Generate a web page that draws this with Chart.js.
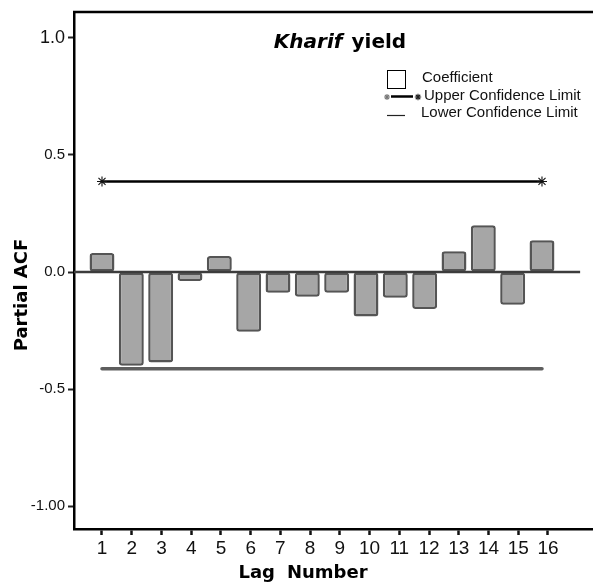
<!DOCTYPE html>
<html>
<head>
<meta charset="utf-8">
<script src="https://cdn.jsdelivr.net/npm/chart.js@4.4.1/dist/chart.umd.min.js"></script>
<style>
  html, body { margin: 0; padding: 0; background: #fff; }
  canvas { display: block; }
</style>
</head>
<body>
<canvas id="pacf" width="593" height="585"></canvas>
<script>
// Partial autocorrelation of Kharif yield, lags 1-16
const LAGS = [1, 2, 3, 4, 5, 6, 7, 8, 9, 10, 11, 12, 13, 14, 15, 16];
const LAG_LABELS = ['1', '2', '3', '4', '5', '6', '7', '8', '9', '10', '11', '12', '13', '14', '15', '16'];
const PACF = [0.081, -0.400, -0.387, -0.038, 0.068, -0.255, -0.089, -0.106,
              -0.089, -0.190, -0.110, -0.158, 0.089, 0.200, -0.140, 0.136];
const UPPER_LIMIT = 0.387;
const LOWER_LIMIT = -0.413;
const Y_TICKS = [1, 0.5, 0, -0.5, -1];
const Y_TICK_LABELS = ['1.0', '0.5', '0.0', '-0.5', '-1.00'];
const TITLE_ITALIC = 'Kharif';
const TITLE_PLAIN = 'yield';
const X_TITLE = 'Lag Number';
const Y_TITLE = 'Partial ACF';
const LEGEND_LABELS = ['Coefficient', 'Upper Confidence Limit', 'Lower Confidence Limit'];

const BOLD = 'bold 18px "DejaVu Sans"';
const SANS = '"Liberation Sans", Arial, sans-serif';

function star(ctx, x, y, r, color) {
  ctx.save();
  ctx.strokeStyle = color;
  ctx.lineWidth = 1.1;
  ctx.beginPath();
  for (let k = 0; k < 4; k++) {
    const a = k * Math.PI / 4;
    ctx.moveTo(x - r * Math.sin(a), y - r * Math.cos(a));
    ctx.lineTo(x + r * Math.sin(a), y + r * Math.cos(a));
  }
  ctx.stroke();
  ctx.restore();
}

// Frame top edge, zero reference line, titles and legend
const decorations = {
  id: 'decorations',
  afterDatasetsDraw(chart) {
    const { ctx, chartArea, scales } = chart;
    const y0 = scales.y.getPixelForValue(0);
    ctx.save();
    ctx.strokeStyle = '#3c3c3c';
    ctx.lineWidth = 2.5;
    ctx.beginPath();
    ctx.moveTo(chartArea.left, y0);
    ctx.lineTo(scales.x.getPixelForValue(LAGS[LAGS.length - 1] + 1.3), y0);
    ctx.stroke();
    ctx.restore();
  },
  afterDraw(chart) {
    const { ctx, chartArea } = chart;
    ctx.save();

    // top edge of the frame
    ctx.strokeStyle = '#000';
    ctx.lineWidth = 2.5;
    ctx.beginPath();
    ctx.moveTo(chartArea.left - 1, chartArea.top);
    ctx.lineTo(chartArea.right, chartArea.top);
    ctx.stroke();

    ctx.fillStyle = '#000';
    ctx.textBaseline = 'alphabetic';

    // chart title: italic species word + plain word
    ctx.font = 'italic bold 20px "DejaVu Sans"';
    const w1 = ctx.measureText(TITLE_ITALIC).width;
    ctx.font = 'bold 20px "DejaVu Sans"';
    const w2 = ctx.measureText(TITLE_PLAIN).width;
    const gap = 9;
    const tx = 340 - (w1 + gap + w2) / 2;
    ctx.font = 'italic bold 20px "DejaVu Sans"';
    ctx.textAlign = 'left';
    ctx.fillText(TITLE_ITALIC, tx, 48);
    ctx.font = 'bold 20px "DejaVu Sans"';
    ctx.fillText(TITLE_PLAIN, tx + w1 + gap, 48);

    // x axis title
    ctx.font = BOLD;
    const words = X_TITLE.split(' ');
    const ww = words.map(w => ctx.measureText(w).width);
    const wgap = 12;
    let xx = 303 - (ww[0] + wgap + ww[1]) / 2;
    ctx.fillText(words[0], xx, 578);
    ctx.fillText(words[1], xx + ww[0] + wgap, 578);

    // y axis title
    ctx.save();
    ctx.translate(27, 295);
    ctx.rotate(-Math.PI / 2);
    ctx.textAlign = 'center';
    ctx.fillText(Y_TITLE, 0, 0);
    ctx.restore();

    // legend
    ctx.font = '15px ' + SANS;
    ctx.textBaseline = 'middle';
    ctx.textAlign = 'left';

    ctx.fillStyle = '#fff';
    ctx.fillRect(387.5, 70.5, 18, 18);
    ctx.strokeStyle = '#000';
    ctx.lineWidth = 1;
    ctx.strokeRect(387.5, 70.5, 18, 18);
    ctx.fillStyle = '#111';
    ctx.fillText(LEGEND_LABELS[0], 422, 78);

    star(ctx, 387, 97, 3, '#777');
    ctx.strokeStyle = '#000';
    ctx.lineWidth = 2.5;
    ctx.beginPath();
    ctx.moveTo(391, 96.5);
    ctx.lineTo(413, 96.5);
    ctx.stroke();
    star(ctx, 418, 97, 3.2, '#222');
    ctx.fillText(LEGEND_LABELS[1], 424, 96);

    ctx.strokeStyle = '#222';
    ctx.lineWidth = 1.2;
    ctx.beginPath();
    ctx.moveTo(387, 115.5);
    ctx.lineTo(405, 115.5);
    ctx.stroke();
    ctx.fillText(LEGEND_LABELS[2], 421, 113);

    ctx.restore();
  }
};

new Chart(document.getElementById('pacf'), {
  data: {
    datasets: [
      {
        type: 'bar',
        label: LEGEND_LABELS[0],
        data: LAGS.map((lag, i) => ({ x: lag, y: PACF[i] })),
        backgroundColor: '#a6a6a6',
        borderColor: '#555',
        borderWidth: 2.5,
        borderRadius: 3,
        borderSkipped: false,
        barPercentage: 0.85,
        categoryPercentage: 1,
        xAxisID: 'x',
        yAxisID: 'y',
        order: 2
      },
      {
        type: 'line',
        label: LEGEND_LABELS[1],
        data: [{ x: LAGS[0], y: UPPER_LIMIT }, { x: LAGS[LAGS.length - 1], y: UPPER_LIMIT }],
        borderColor: '#000',
        borderWidth: 2.5,
        pointStyle: 'star',
        pointRadius: 5,
        pointBorderColor: '#111',
        pointBorderWidth: 1.1,
        pointBackgroundColor: '#111',
        xAxisID: 'x',
        yAxisID: 'y',
        order: 0
      },
      {
        type: 'line',
        label: LEGEND_LABELS[2],
        data: [{ x: LAGS[0], y: LOWER_LIMIT }, { x: LAGS[LAGS.length - 1], y: LOWER_LIMIT }],
        borderColor: '#5e5e5e',
        borderWidth: 3.5,
        borderCapStyle: 'round',
        pointRadius: 0,
        xAxisID: 'x',
        yAxisID: 'y',
        order: 1
      }
    ]
  },
  options: {
    responsive: false,
    animation: false,
    events: [],
    layout: { autoPadding: false, padding: { top: 10, right: 0, bottom: 0, left: 0 } },
    plugins: {
      legend: { display: false },
      tooltip: { enabled: false },
      title: { display: false }
    },
    scales: {
      x: {
        type: 'linear',
        display: false,
        offset: false,
        min: 0.0455,
        max: 17.739
      },
      xl: {
        type: 'linear',
        position: 'bottom',
        offset: false,
        min: 0.0583,
        max: 17.514,
        afterBuildTicks: s => { s.ticks = LAGS.map(v => ({ value: v })); },
        afterFit: s => { s.height = 56; },
        ticks: {
          callback: v => LAG_LABELS[LAGS.indexOf(v)],
          font: { family: SANS, size: 19 },
          color: '#111',
          padding: 2,
          maxRotation: 0,
          autoSkip: false
        },
        grid: { drawOnChartArea: false, tickLength: 6, tickWidth: 2.5, tickColor: '#111' },
        border: { color: '#000', width: 2.5 }
      },
      y: {
        type: 'linear',
        min: -1.098,
        max: 1.111,
        afterBuildTicks: s => { s.ticks = Y_TICKS.map(v => ({ value: v })); },
        afterFit: s => { s.width = 74; },
        ticks: {
          callback: v => Y_TICK_LABELS[Y_TICKS.indexOf(v)],
          font: c => ({ family: SANS, size: c.tick && c.tick.value === 1 ? 18 : 15 }),
          color: '#111',
          padding: 3
        },
        grid: { drawOnChartArea: false, tickLength: 6, tickWidth: 2, tickColor: '#222' },
        border: { color: '#000', width: 2.5 }
      }
    }
  },
  plugins: [decorations]
});
</script>
</body>
</html>
